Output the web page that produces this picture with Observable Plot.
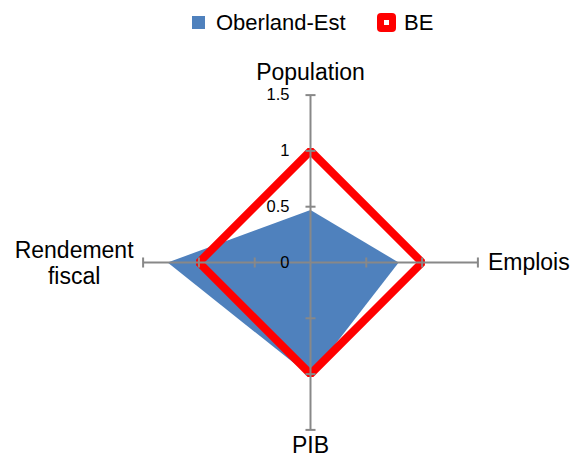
<!DOCTYPE html>
<html>
<head>
<meta charset="utf-8">
<script src="https://cdn.jsdelivr.net/npm/d3@7"></script>
<script src="https://cdn.jsdelivr.net/npm/@observablehq/plot@0.6"></script>
<style>
  html, body { margin: 0; padding: 0; background: #fff; }
  body { width: 570px; height: 457px; overflow: hidden; font-family: "Liberation Sans", Arial, sans-serif; }
  #legend { position: relative; height: 44px; }
  .sw { position: absolute; }
  .lt { position: absolute; font-size: 22px; line-height: 22px; color: #000; }
</style>
</head>
<body>
<div id="legend"></div>
<div id="chart"></div>
<script>
const axesNames = ["Population", "Emplois", "PIB", "Rendement fiscal"];
const axisLabels = ["Population", "Emplois", "PIB", "Rendement\nfiscal"];
const oberlandEst = [0.47, 0.79, 1.02, 1.28];
const beValues = [1, 1, 1, 1];
const tickValues = [0, 0.5, 1, 1.5];
const tickLabels = ["0", "0.5", "1", "1.5"];
const seriesNames = ["Oberland-Est", "BE"];
const seriesColors = ["#4f81bd", "#ff0000"];

// directions: up, right, down, left
const dirs = [[0, 1], [1, 0], [0, -1], [-1, 0]];
const maxR = 1.5;

function polygon(values, name) {
  return values.map((v, i) => ({ series: name, axis: axesNames[i], x: dirs[i][0] * v, y: dirs[i][1] * v }));
}
const oberlandPts = polygon(oberlandEst, seriesNames[0]);
const bePts = polygon(beValues, seriesNames[1]);

const axisLines = axesNames.map((a, i) => ({ axis: a, x1: 0, y1: 0, x2: dirs[i][0] * maxR, y2: dirs[i][1] * maxR }));
const h = 0.045;
const tickMarks = [];
axesNames.forEach((a, i) => {
  tickValues.filter(t => t > 0).forEach(t => {
    const cx = dirs[i][0] * t, cy = dirs[i][1] * t;
    const px = -dirs[i][1], py = dirs[i][0];
    tickMarks.push({ x1: cx - px * h, y1: cy - py * h, x2: cx + px * h, y2: cy + py * h });
  });
});
const tickText = tickValues.map((t, i) => ({ x: 0, y: t, label: tickLabels[i] }));

const W = 570, H = 413;
const unit = 111.6;
const cx = 310, cy = 218;

const chart = Plot.plot({
  width: W,
  height: H,
  margin: 0,
  x: { domain: [-cx / unit, (W - cx) / unit], range: [0, W], axis: null },
  y: { domain: [-(H - cy) / unit, cy / unit], range: [H, 0], axis: null },
  style: { fontFamily: "Liberation Sans, Arial, sans-serif", background: "#fff" },
  marks: [
    Plot.line(oberlandPts, { x: "x", y: "y", fill: seriesColors[0], stroke: "none", curve: "linear-closed" }),
    Plot.line(bePts, { x: "x", y: "y", stroke: seriesColors[1], strokeWidth: 8, curve: "linear-closed", strokeLinejoin: "miter" }),
    Plot.link(axisLines, { x1: "x1", y1: "y1", x2: "x2", y2: "y2", stroke: "#888", strokeWidth: 2 }),
    Plot.link(tickMarks, { x1: "x1", y1: "y1", x2: "x2", y2: "y2", stroke: "#888", strokeWidth: 2 }),
    Plot.text(tickText, { x: "x", y: "y", text: "label", dx: -21, textAnchor: "end", fontSize: 16.5, fill: "#000" }),
    Plot.text([axisLabels[0]], { x: 0, y: maxR, text: d => d, dy: -22, fontSize: 23, fill: "#000" }),
    Plot.text([axisLabels[1]], { x: maxR, y: 0, text: d => d, dx: 10, textAnchor: "start", fontSize: 23, fill: "#000" }),
    Plot.text([axisLabels[2]], { x: 0, y: -maxR, text: d => d, dy: 16, fontSize: 23, fill: "#000" }),
    Plot.text([axisLabels[3]], { x: -maxR, y: 0, text: d => d, dx: -69, textAnchor: "middle", fontSize: 23, lineHeight: 1.13, fill: "#000" })
  ]
});
document.getElementById("chart").appendChild(chart);

// legend
const legend = document.getElementById("legend");
legend.innerHTML = `
  <div class="sw" style="left:192px;top:16px;width:13px;height:13px;background:${seriesColors[0]}"></div>
  <div class="lt" style="left:216px;top:12px">${seriesNames[0]}</div>
  <div class="sw" style="left:377px;top:13px;width:19px;height:19px;border-radius:4px;background:${seriesColors[1]}"></div>
  <div class="sw" style="left:384px;top:20px;width:5px;height:5px;background:#fff"></div>
  <div class="lt" style="left:404px;top:12px">${seriesNames[1]}</div>
`;
</script>
</body>
</html>
